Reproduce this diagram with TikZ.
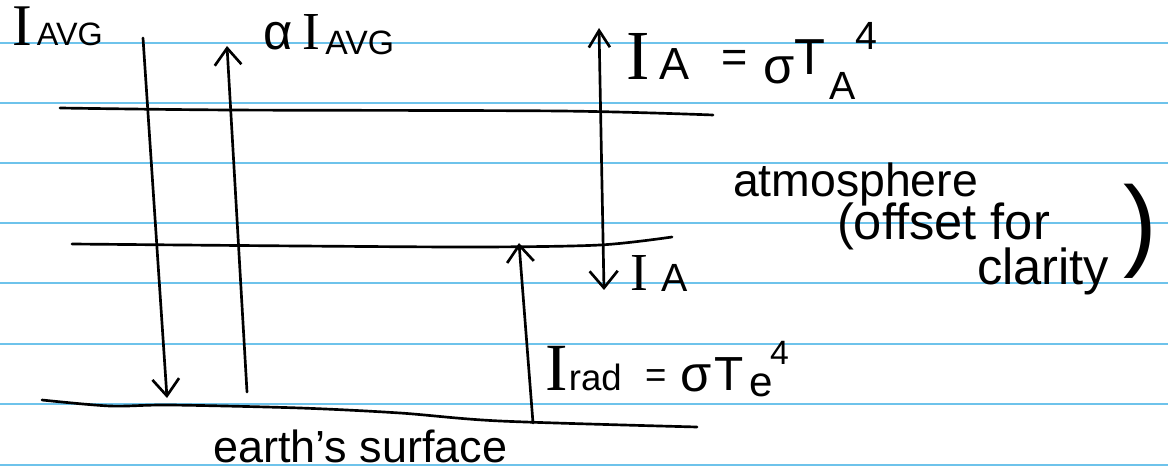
\documentclass[tikz,border=0pt]{standalone}
\usepackage{fontspec}
\setmainfont{Liberation Sans}
\newfontfamily\serI{Liberation Serif}
\usetikzlibrary{arrows.meta}
\definecolor{rulecol}{RGB}{110,195,235}
\newcommand{\fsz}[1]{\fontsize{#1}{#1}\selectfont}
\begin{document}
\begin{tikzpicture}[x=0.025cm,y=-0.025cm,
  ink/.style={line width=1.9pt, line cap=round, line join=round},
  arr/.style={ink, -{Straight Barb[length=12pt,width=19pt]}},
  darr/.style={ink, {Straight Barb[length=12pt,width=20pt]}-{Straight Barb[length=12pt,width=15pt]}},
  ruled/.style={rulecol, line width=1.1pt},
  lbl/.style={anchor=base west, inner sep=0pt, outer sep=0pt}]
\fill[white] (0,0) rectangle (1168,471);
\useasboundingbox (0,0) rectangle (1168,471);
% ruled paper
\foreach \yy in {43,103,163,223,283,344,404,465}
  \draw[ruled] (0,\yy) -- (1168,\yy);
% atmosphere lines and surface
\draw[ink] plot[smooth] coordinates {(60,108) (230,110) (560,111) (713,115)};
\draw[ink] plot[smooth] coordinates {(72,244) (300,246) (480,247) (600,245) (672,237)};
\draw[ink] plot[smooth] coordinates {(42,400) (110,406) (170,405) (300,408) (400,413) (500,421) (697,427)};
% arrow end points
\coordinate (avgTop) at (143,38);
\coordinate (avgBot) at (167,398);
\coordinate (albBot) at (247,392);
\coordinate (albTop) at (227,46);
\coordinate (iaTop) at (599,28);
\coordinate (iaBot) at (604,290);
\coordinate (radBot) at (533,423);
\coordinate (radTop) at (519,243);
\draw[arr] (avgTop) -- (avgBot);
\draw[arr] (albBot) -- (albTop);
\draw[darr] (iaBot) -- (iaTop);
\draw[arr] (radBot) -- (radTop);
% labels
\node[lbl] (lIavg) at (13,46) {{\serI\fsz{42}I}\hspace{3pt}{\fsz{23}AVG}};
\node[lbl] (lAlpha) at (263,50) {\fsz{36}α};
\node[lbl] (lIavg2) at (302,50) {{\serI\fsz{38}I}\hspace{4pt}\raisebox{-3pt}{\fsz{24}AVG}};
\node[lbl] (lIAt) at (626,80) {\serI\fsz{50}I};
\node[lbl] (lAt) at (659,80) {\fsz{32}A};
\node[lbl] (lEqt) at (721,73) {\fsz{32}=};
\node[lbl] (lSigt) at (763,84) {\fsz{36}σ};
\node[lbl] (lTt) at (794,75) {\fsz{36}T};
\node[lbl] (lAsub) at (829,100) {\fsz{28}A};
\node[lbl] (l4t) at (855,50) {\fsz{28}4};
\node[lbl] (lIAb) at (630,291) {\serI\fsz{38}I};
\node[lbl] (lAb) at (661,292) {\fsz{28}A};
\node[lbl] (lIrad) at (545,390) {{\serI\fsz{48}I}\hspace{1pt}{\fsz{26}rad}};
\node[lbl] (lEqb) at (645,387) {\fsz{26}=};
\node[lbl] (lSigb) at (680,391) {\fsz{36}σ};
\node[lbl] (lTb) at (714,390) {\fsz{34}T};
\node[lbl] (lEb) at (749,396) {\fsz{30}e};
\node[lbl] (l4b) at (770,364) {\fsz{24}4};
\node[lbl] (lAtm) at (733,197) {\fsz{33}atmosphere};
\node[lbl] (lOff) at (837,240) {\fsz{36}(offset for};
\node[lbl] (lClar) at (977,285) {\fsz{36}clarity};
\node[lbl] (lParen) at (1123,258) {\fsz{72})};
\node[lbl] (lEarth) at (213,462) {\fsz{32}earth's surface};
\end{tikzpicture}
\end{document}
